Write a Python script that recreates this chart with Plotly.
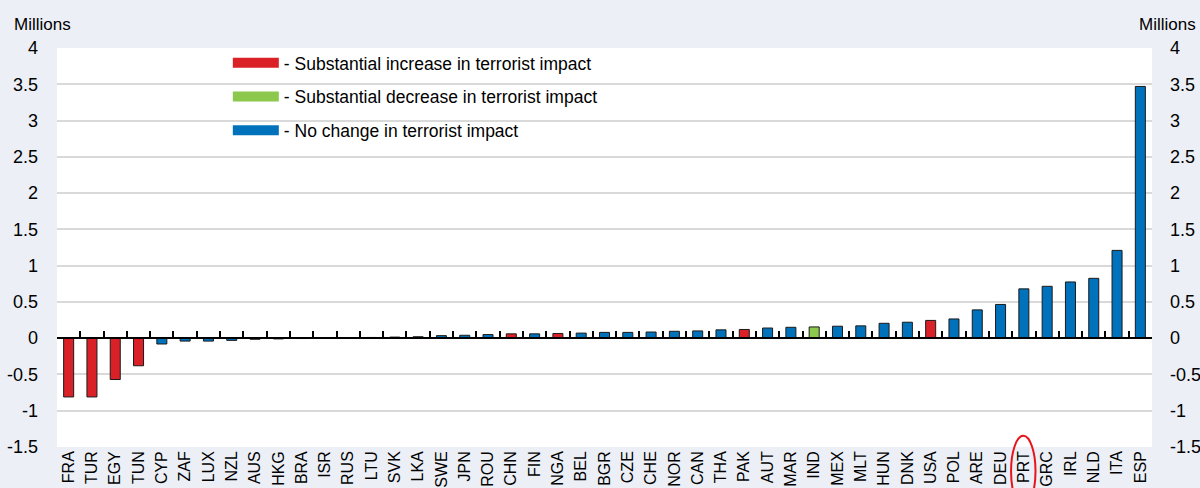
import plotly.graph_objects as go

countries = ['FRA', 'TUR', 'EGY', 'TUN', 'CYP', 'ZAF', 'LUX', 'NZL', 'AUS', 'HKG',
             'BRA', 'ISR', 'RUS', 'LTU', 'SVK', 'LKA', 'SWE', 'JPN', 'ROU', 'CHN',
             'FIN', 'NGA', 'BEL', 'BGR', 'CZE', 'CHE', 'NOR', 'CAN', 'THA', 'PAK',
             'AUT', 'MAR', 'IND', 'MEX', 'MLT', 'HUN', 'DNK', 'USA', 'POL', 'ARE',
             'DEU', 'PRT', 'GRC', 'IRL', 'NLD', 'ITA', 'ESP']

values = [-0.81, -0.81, -0.57, -0.38, -0.08, -0.04, -0.04, -0.03, -0.015, -0.01,
          -0.005, 0.003, 0.005, 0.01, 0.015, 0.02, 0.035, 0.04, 0.05, 0.06,
          0.06, 0.065, 0.07, 0.08, 0.08, 0.085, 0.095, 0.1, 0.115, 0.12,
          0.14, 0.15, 0.155, 0.165, 0.17, 0.205, 0.22, 0.245, 0.265, 0.39,
          0.465, 0.68, 0.715, 0.775, 0.825, 1.21, 3.47]

# i = increase, d = decrease, n = no change
status = ['i', 'i', 'i', 'i', 'n', 'n', 'n', 'n', 'n', 'n',
          'n', 'n', 'n', 'n', 'n', 'n', 'n', 'n', 'n', 'i',
          'n', 'i', 'n', 'n', 'n', 'n', 'n', 'n', 'n', 'i',
          'n', 'n', 'd', 'n', 'n', 'n', 'n', 'i', 'n', 'n',
          'n', 'n', 'n', 'n', 'n', 'n', 'n']

groups = ['i', 'd', 'n']
group_names = ['- Substantial increase in terrorist impact',
               '- Substantial decrease in terrorist impact',
               '- No change in terrorist impact']
group_colors = {'i': '#DA2128', 'd': '#8CC84B', 'n': '#0072BC'}

y_range = [-1.5, 4]
y_ticks = [-1.5, -1, -0.5, 0, 0.5, 1, 1.5, 2, 2.5, 3, 3.5, 4]
y_text = [f'{v:g}' for v in y_ticks]
highlight = 'PRT'

FONT = 'Liberation Sans, Arial, sans-serif'
BG = '#ECEFF6'

fig = go.Figure()

fig.add_trace(go.Bar(
    x=countries, y=values,
    marker=dict(color=[group_colors[s] for s in status],
                line=dict(color='#1a1a1a', width=1)),
    width=0.43, showlegend=False, hoverinfo='x+y'))

# legend entries
for g, name in zip(groups, group_names):
    fig.add_trace(go.Scatter(
        x=[None], y=[None], mode='lines', name=name, legendgroup=g,
        line=dict(color=group_colors[g], width=11)))

# helper trace for the zero line axis and the right-hand axis
fig.add_trace(go.Scatter(
    x=countries, y=values, xaxis='x2', yaxis='y2', mode='none',
    showlegend=False, hoverinfo='skip'))

zero_pos = (0 - y_range[0]) / (y_range[1] - y_range[0])
x_range = [-0.5, len(countries) - 0.5]

fig.update_layout(
    width=1200, height=488,
    margin=dict(l=57, r=48, t=48, b=41, autoexpand=False),
    paper_bgcolor=BG, plot_bgcolor='white',
    font=dict(family=FONT, color='#000000'),
    barmode='overlay',
    xaxis=dict(type='category', categoryorder='array', categoryarray=countries,
               range=x_range, tickangle=-90, tickfont=dict(size=16), ticks='',
               showline=False, showgrid=False, automargin=False),
    xaxis2=dict(type='category', categoryorder='array', categoryarray=countries,
                range=x_range, overlaying='x', matches='x', anchor='free',
                position=zero_pos, side='bottom', showticklabels=False,
                showgrid=False, ticks='inside', tickson='boundaries', ticklen=6,
                tickwidth=1.5, tickcolor='#000000', showline=True,
                linecolor='#000000', linewidth=1.5),
    yaxis=dict(range=y_range, tickvals=y_ticks, ticktext=y_text,
               tickfont=dict(size=18), showgrid=True, gridcolor='#D9D9D9',
               gridwidth=1.5, zeroline=False, showline=False, ticks='',
               ticklabelstandoff=18, automargin=False),
    yaxis2=dict(range=y_range, tickvals=y_ticks, ticktext=y_text,
                overlaying='y', side='right', anchor='x', matches='y',
                tickfont=dict(size=18), showgrid=False, zeroline=False,
                showline=False, ticks='', ticklabelstandoff=17,
                automargin=False),
    legend=dict(x=0.156, y=1.008, xanchor='left', yanchor='top',
                bgcolor='rgba(0,0,0,0)', borderwidth=0,
                font=dict(size=17.5), tracegroupgap=8, itemwidth=46),
    annotations=[
        dict(text='Millions', xref='paper', yref='paper', x=-0.041, y=1.058,
             xanchor='left', yanchor='middle', showarrow=False,
             font=dict(size=17)),
        dict(text='Millions', xref='paper', yref='paper', x=1.042, y=1.058,
             xanchor='right', yanchor='middle', showarrow=False,
             font=dict(size=17)),
    ],
)

# red circle around the highlighted label
idx = countries.index(highlight)
fig.add_shape(type='circle', xref='x', yref='paper',
              x0=idx - 0.55, x1=idx + 0.5, y0=-0.15, y1=0.028,
              line=dict(color='#E8141B', width=2))

fig.write_html('out.html', config={'displayModeBar': False},
               post_script="document.body.style.margin='0';")
